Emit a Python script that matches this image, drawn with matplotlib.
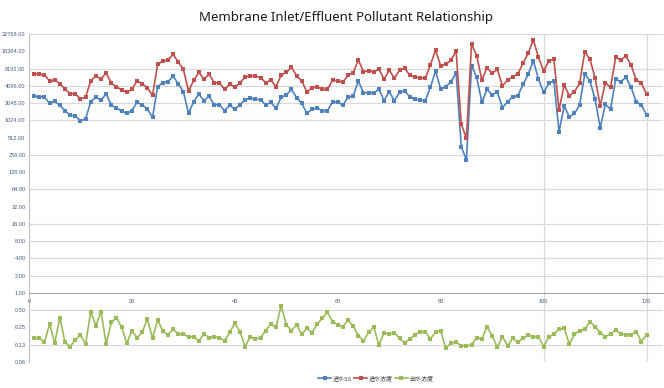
import matplotlib
matplotlib.use("Agg")
import matplotlib.pyplot as plt
from matplotlib.ticker import FixedLocator, FixedFormatter, NullLocator

plt.rcParams['font.family'] = ['Noto Sans', 'Noto Sans CJK SC', 'DejaVu Sans']

title = "Membrane Inlet/Effluent Pollutant Relationship"
series_names = ["进水SS", "进水浓度", "出水浓度"]

x = list(range(1, 121))

blue = [2690, 2640, 2610, 2020, 2190, 1870, 1510, 1250, 1230, 995,
        1090, 2160, 2610, 2290, 2980, 1870, 1700, 1470, 1350, 1510,
        2130, 1900, 1610, 1150, 3950, 4640, 4830, 5990, 4450, 3230,
        1350, 2160, 2940, 2250, 2690, 1910, 1930, 1510, 1870, 1610,
        1910, 2350, 2470, 2400, 2320, 1900, 2110, 1660, 2580, 2830,
        3540, 2550, 2020, 1350, 1610, 1660, 1510, 1510, 2160, 2110,
        1900, 2580, 2720, 4970, 3100, 3100, 3020, 3590, 2250, 3230,
        2250, 3150, 3330, 2640, 2380, 2320, 2250, 3850, 7390, 3590,
        3950, 4830, 6930, 355, 208, 9150, 5750, 2110, 3590, 2830,
        3230, 1700, 2160, 2640, 2760, 4330, 6470, 11190, 5370, 3150,
        4510, 4970, 648, 1820, 1180, 1350, 1900, 6560, 4970, 2400,
        760, 1950, 1590, 5300, 4830, 5750, 3850, 2160, 1900, 1270]

red = [6650, 6470, 6380, 4970, 5150, 4450, 3540, 2980, 2980, 2400,
       2610, 5010, 6070, 5370, 6930, 4510, 3950, 3450, 3190, 3540,
       5010, 4450, 3790, 2790, 9680, 11030, 11520, 14470, 10650, 7910,
       3330, 5080, 7030, 5370, 6470, 4640, 4640, 3540, 4390, 3850,
       4640, 5800, 6070, 6070, 5670, 4640, 5150, 3950, 6300, 7030,
       8590, 6130, 4970, 3190, 3790, 3950, 3540, 3540, 5150, 5010,
       4700, 6300, 6930, 11520, 7220, 7490, 7130, 8020, 5300, 7700,
       5520, 7700, 8250, 6300, 5750, 5670, 5520, 9410, 17200, 9150,
       9680, 11520, 16500, 885, 498, 21900, 13690, 5150, 8470, 6740,
       7910, 4100, 5150, 5900, 6650, 10080, 15070, 26000, 12830, 7490,
       11030, 11990, 1550, 4210, 2760, 3230, 4510, 16050, 11830, 5670,
       1820, 4640, 3850, 12830, 11520, 13500, 9410, 5150, 4510, 2940]

green = [0.166, 0.166, 0.138, 0.285, 0.136, 0.372, 0.138, 0.116, 0.152, 0.186,
         0.128, 0.473, 0.269, 0.473, 0.128, 0.308, 0.372, 0.252, 0.133, 0.218,
         0.166, 0.206, 0.352, 0.162, 0.339, 0.218, 0.186, 0.236, 0.190, 0.190,
         0.173, 0.173, 0.147, 0.193, 0.166, 0.173, 0.166, 0.146, 0.206, 0.296,
         0.212, 0.116, 0.173, 0.156, 0.166, 0.221, 0.288, 0.252, 0.594, 0.277,
         0.221, 0.277, 0.190, 0.242, 0.203, 0.288, 0.362, 0.461, 0.316, 0.277,
         0.259, 0.339, 0.266, 0.180, 0.147, 0.206, 0.252, 0.124, 0.203, 0.190,
         0.203, 0.162, 0.133, 0.158, 0.186, 0.212, 0.212, 0.158, 0.206, 0.218,
         0.109, 0.133, 0.138, 0.121, 0.120, 0.124, 0.166, 0.158, 0.259, 0.180,
         0.113, 0.173, 0.120, 0.162, 0.138, 0.162, 0.186, 0.173, 0.173, 0.116,
         0.169, 0.193, 0.233, 0.242, 0.128, 0.190, 0.221, 0.233, 0.316, 0.259,
         0.203, 0.173, 0.193, 0.227, 0.193, 0.186, 0.186, 0.212, 0.142, 0.186]

y_ticks = [2.0 ** k for k in range(-4, 16)]
y_tick_labels = ["0.06", "0.13", "0.25", "0.50", "1.00", "2.00", "4.00", "8.00",
                 "16.00", "32.00", "64.00", "128.00", "256.00", "512.00",
                 "1024.00", "2048.00", "4096.00", "8192.00", "16384.00", "32768.00"]
h_grid = [32768, 8192, 4096, 2048, 1024, 256, 64, 16, 8, 4, 2, 0.5, 0.125]
v_grid = [100, 120]
x_ticks = [0, 20, 40, 60, 80, 100, 120]

colors = ["#4F81BD", "#C0504D", "#9BBB59"]

fig = plt.figure(figsize=(6.64, 3.88), dpi=100)
ax = fig.add_axes([29 / 664, 26 / 388, 634 / 664, 328 / 388])
ax.set_yscale('log', base=2)
ax.set_ylim(0.0625, 32768)
ax.set_xlim(0, 123.2)

for g in h_grid:
    ax.axhline(g, color="#D9D9D9", lw=0.9, zorder=0)
for g in v_grid:
    ax.axvline(g, color="#D9D9D9", lw=0.9, zorder=0)

for vals, c, name in zip([blue, red, green], colors, series_names):
    ax.plot(x, vals, color=c, lw=1.2, marker='s', markersize=2.9,
            markeredgewidth=0, label=name, zorder=3)

ax.yaxis.set_major_locator(FixedLocator(y_ticks))
ax.yaxis.set_major_formatter(FixedFormatter(y_tick_labels))
ax.yaxis.set_minor_locator(NullLocator())
ax.set_xticks(x_ticks)
ax.set_xticklabels([str(t) for t in x_ticks])

ax.spines['top'].set_visible(False)
ax.spines['right'].set_visible(False)
ax.spines['left'].set_color("#BFBFBF")
ax.spines['bottom'].set_position(('data', 1))
ax.spines['bottom'].set_color("#A6A6A6")
ax.tick_params(axis='both', length=0, labelsize=4.1, labelcolor="#4A5A80")
ax.tick_params(axis='y', pad=2.5)
ax.tick_params(axis='x', pad=4)
for lab in ax.get_yticklabels() + ax.get_xticklabels():
    lab.set_family(['Liberation Sans', 'DejaVu Sans'])

fig.text(346 / 664, 1 - 17 / 388, title, ha='center', va='center',
         fontsize=9.5, color="#1A1A1A")

leg = fig.legend(loc='center', bbox_to_anchor=(376 / 664, 10 / 388), ncol=3,
                 frameon=False, handlelength=2.2,
                 handletextpad=0.3, columnspacing=0.3,
                 prop={'family': ['Noto Sans CJK SC', 'DejaVu Sans'], 'size': 4.3})
for t in leg.get_texts():
    t.set_color("#404040")

fig.savefig("out.png", dpi=100)
